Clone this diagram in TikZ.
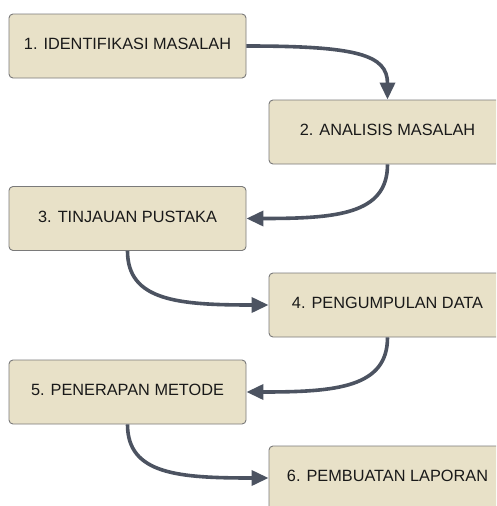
\documentclass[tikz,border=0pt]{standalone}
\usepackage{fontspec}
\setmainfont{Liberation Sans}
\usetikzlibrary{arrows.meta}
\definecolor{boxfill}{HTML}{E8E1C8}
\definecolor{boxline}{HTML}{7A7A7A}
\definecolor{arrowcol}{HTML}{4C5361}
\begin{document}
\begin{tikzpicture}[x=1pt,y=-1pt,
  stepbox/.style={draw=boxline,fill=boxfill,line width=0.9pt,rounded corners=4pt,
    minimum width=237pt,minimum height=64pt,inner sep=0pt,
    font=\fontsize{16.3}{19}\selectfont,text=black!90,text height=11.7pt,text depth=4pt},
  flow/.style={draw=arrowcol,line width=3.6pt,-{Triangle[length=17pt,width=15pt]}}]
\useasboundingbox (0,0) rectangle (496,506);
\clip (0,0) rectangle (496,506);
\fill[white] (0,0) rectangle (496,506);
\node[stepbox] (b1) at (127.5,46) {1. IDENTIFIKASI MASALAH};
\node[stepbox] (b2) at (387.5,132) {2. ANALISIS MASALAH};
\node[stepbox] (b3) at (127.5,218.5) {3. TINJAUAN PUSTAKA};
\node[stepbox] (b4) at (387.5,305) {4. PENGUMPULAN DATA};
\node[stepbox] (b5) at (127.5,392) {5. PENERAPAN METODE};
\node[stepbox] (b6) at (387.5,478) {6. PEMBUATAN LAPORAN};
\draw[flow] (b1.east) .. controls +(110,0) and +(0,-45) .. (b2.north);
\draw[flow] (b2.south) .. controls +(0,50) and +(90,0) .. (b3.east);
\draw[flow] (b3.south) .. controls +(0,50) and +(-90,0) .. (b4.west);
\draw[flow] (b4.south) .. controls +(0,50) and +(90,0) .. (b5.east);
\draw[flow] (b5.south) .. controls +(0,50) and +(-90,0) .. (b6.west);
\end{tikzpicture}
\end{document}
